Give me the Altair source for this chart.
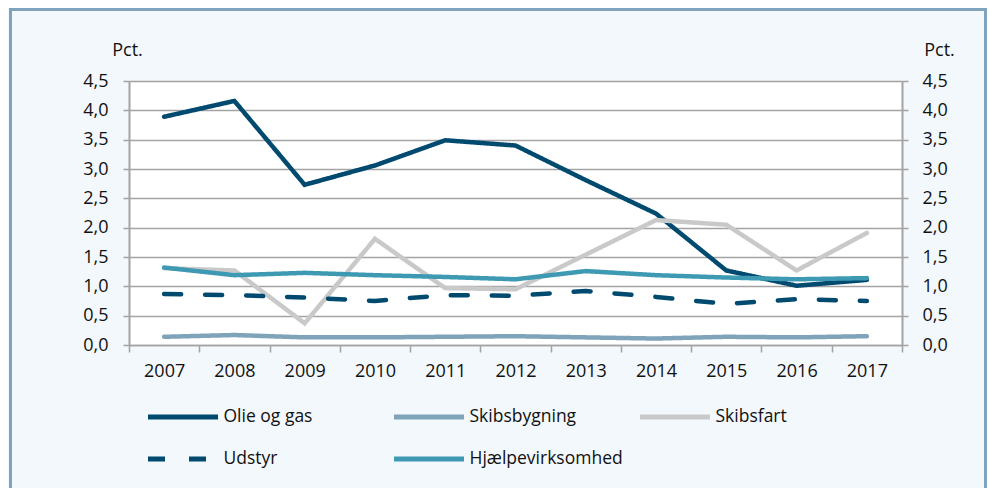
import altair as alt
import pandas as pd

years = [str(y) for y in range(2007, 2018)]
series_names = ["Olie og gas", "Skibsbygning", "Skibsfart", "Udstyr", "Hjælpevirksomhed"]

olie_og_gas = [3.89, 4.16, 2.73, 3.06, 3.49, 3.40, 2.81, 2.24, 1.27, 1.01, 1.11]
skibsbygning = [0.14, 0.17, 0.13, 0.13, 0.14, 0.15, 0.13, 0.11, 0.14, 0.13, 0.15]
skibsfart = [1.31, 1.27, 0.37, 1.81, 0.97, 0.95, 1.54, 2.13, 2.05, 1.27, 1.91]
udstyr = [0.87, 0.85, 0.81, 0.75, 0.85, 0.84, 0.92, 0.82, 0.70, 0.78, 0.75]
hjaelpevirksomhed = [1.32, 1.19, 1.23, 1.19, 1.16, 1.12, 1.26, 1.19, 1.15, 1.12, 1.14]

series_values = [olie_og_gas, skibsbygning, skibsfart, udstyr, hjaelpevirksomhed]
colors = ["#004a70", "#7fa3b9", "#c9c9c9", "#004a70", "#3d9ab2"]
dashes = [[1, 0], [1, 0], [1, 0], [17, 24], [1, 0]]
y_ticks = [0, 0.5, 1, 1.5, 2, 2.5, 3, 3.5, 4, 4.5]

rows = []
for name, vals in zip(series_names, series_values):
    for yr, v in zip(years, vals):
        rows.append({"year": yr, "series": name, "value": v})
df = pd.DataFrame(rows)

FONT = "Open Sans"
GRAY = "#a3a3a3"
W, H = 773, 264
PL, PT = 121, 73

label_expr = "replace(format(datum.value, '.1f'), '.', ',')"

x_enc = alt.X(
    "year:O",
    sort=years,
    scale=alt.Scale(type="band", paddingInner=0, paddingOuter=0),
    axis=alt.Axis(
        title=None, tickBand="extent", labelAngle=0, tickSize=7, tickColor=GRAY,
        tickWidth=1.5, domainColor=GRAY, domainWidth=1.5, labelFont=FONT,
        labelFontSize=18, labelColor="#111111", labelPadding=10, grid=False,
    ),
)

y_scale = alt.Scale(domain=[0, 4.5], nice=False, zero=True)

left_axis = alt.Axis(
    values=y_ticks, grid=True, gridColor=GRAY, gridWidth=1.5, domainColor=GRAY,
    domainWidth=2, tickColor=GRAY, tickWidth=1.5, tickSize=6, labelPadding=15,
    labelFont=FONT, labelFontSize=18, labelColor="#111111", labelExpr=label_expr,
    title="Pct.", titleAngle=0, titleX=-2, titleY=-31, titleAlign="center",
    titleBaseline="middle", titleFont=FONT, titleFontSize=18,
    titleFontWeight="normal", titleColor="#111111",
)
right_axis = alt.Axis(
    orient="right", values=y_ticks, grid=False, domainColor=GRAY, domainWidth=2,
    tickColor=GRAY, tickWidth=1.5, tickSize=6, labelPadding=14, labelFont=FONT,
    labelFontSize=18, labelColor="#111111", labelExpr=label_expr,
    title="Pct.", titleAngle=0, titleX=37, titleY=-31, titleAlign="center",
    titleBaseline="middle", titleFont=FONT, titleFontSize=18,
    titleFontWeight="normal", titleColor="#111111",
)

legend = alt.Legend(
    title=None, orient="none", legendX=19, legendY=326, columns=3,
    direction="horizontal",
    symbolType="stroke", symbolSize=4900, symbolStrokeWidth=5, symbolOffset=-2.5,
    labelOffset=3, clipHeight=20, rowPadding=22, columnPadding=17, gridAlign="all",
    labelFont=FONT, labelFontSize=17.5, labelColor="#111111", labelLimit=300,
)

base = alt.Chart(df)

lines = base.mark_line(strokeWidth=4.5, strokeCap="round").encode(
    x=x_enc,
    y=alt.Y("value:Q", scale=y_scale, axis=left_axis),
    color=alt.Color("series:N", sort=series_names,
                    scale=alt.Scale(domain=series_names, range=colors), legend=legend),
    strokeDash=alt.StrokeDash("series:N", sort=series_names,
                              scale=alt.Scale(domain=series_names, range=dashes), legend=legend),
)

right = base.mark_line(opacity=0).encode(
    x=x_enc,
    y=alt.Y("value:Q", scale=y_scale, axis=right_axis),
    detail="series:N",
)

frame = alt.Chart(pd.DataFrame({"a": [0]})).mark_rect(
    fillOpacity=0, stroke="#7fa3bd", strokeWidth=3
).encode(
    x=alt.value(-118.5), x2=alt.value(856.5), y=alt.value(-71.5), y2=alt.value(430)
)

chart = alt.layer(frame, lines, right).resolve_scale(y="independent").properties(
    width=W, height=H,
    autosize=alt.AutoSizeParams(type="none"),
    padding={"left": PL, "top": PT, "right": 979 - PL - W, "bottom": 480 - PT - H},
    background="#f3f8fc",
).configure_view(fill="white", strokeWidth=0)

chart.save("out.html", embed_options={"renderer": "svg", "actions": False})
